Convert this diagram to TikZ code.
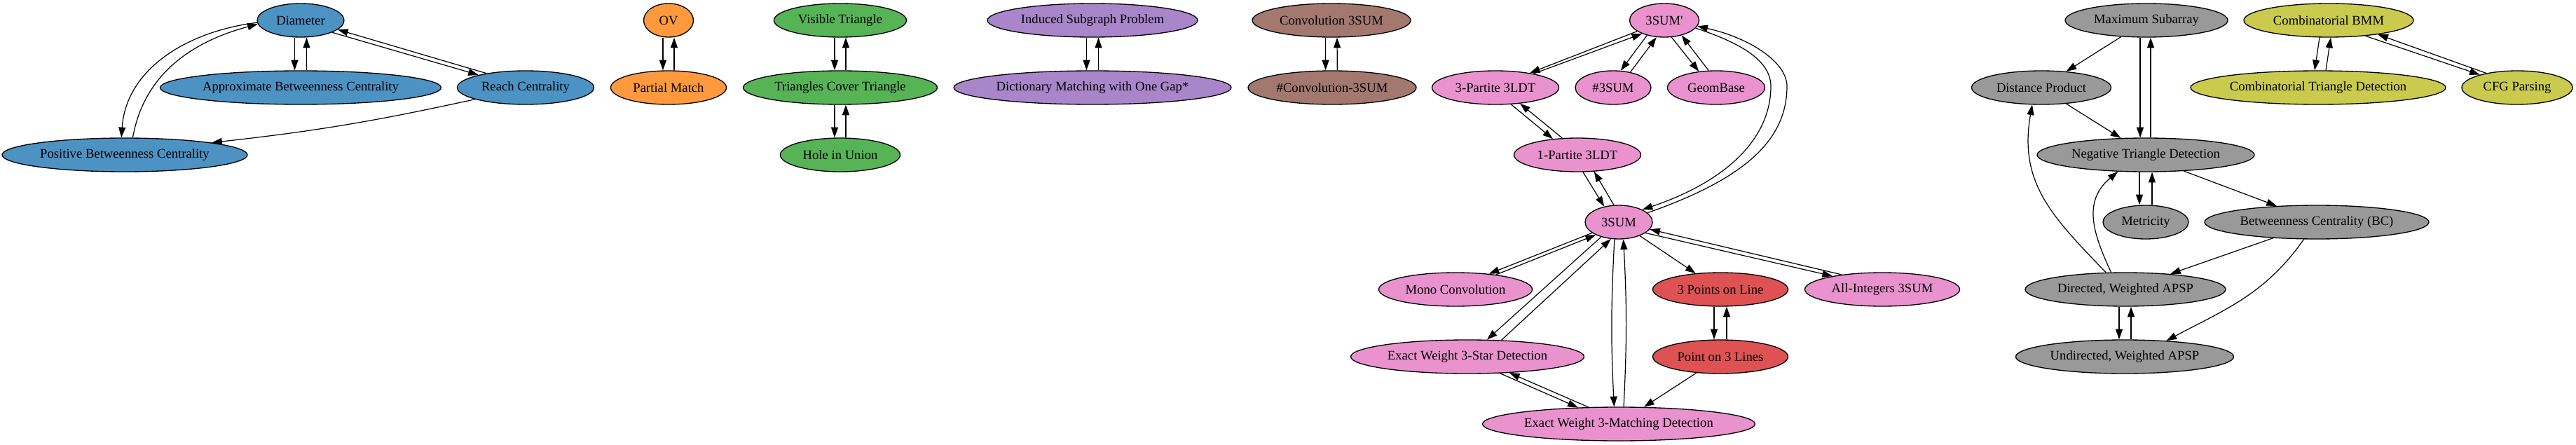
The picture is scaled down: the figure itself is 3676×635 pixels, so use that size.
\documentclass[tikz,border=0pt]{standalone}
\usepackage{fontspec}
\setmainfont{Liberation Serif}
\usetikzlibrary{shapes.geometric,arrows.meta}
\definecolor{cblue}{RGB}{76,146,195}
\definecolor{corange}{RGB}{255,153,62}
\definecolor{cgreen}{RGB}{86,179,86}
\definecolor{cred}{RGB}{222,82,83}
\definecolor{cpurple}{RGB}{169,133,202}
\definecolor{cbrown}{RGB}{163,120,111}
\definecolor{cpink}{RGB}{233,146,206}
\definecolor{cgray}{RGB}{153,153,153}
\definecolor{colive}{RGB}{201,202,78}
\begin{document}
\begin{tikzpicture}[x=0.75pt,y=-0.75pt,
  gv/.style={ellipse,draw=black,line width=1pt,inner sep=0pt,minimum height=36pt,font=\fontsize{14pt}{16pt}\selectfont},
  wd/.style={minimum width=#1*0.75pt},
  bl/.style={gv,fill=cblue},
  orn/.style={gv,fill=corange},
  grn/.style={gv,fill=cgreen},
  rd/.style={gv,fill=cred},
  prp/.style={gv,fill=cpurple},
  brn/.style={gv,fill=cbrown},
  pnk/.style={gv,fill=cpink},
  gry/.style={gv,fill=cgray},
  olv/.style={gv,fill=colive},
  arr/.style={-{Triangle[length=11pt,width=7.5pt]},line width=0.9pt},
]
\useasboundingbox (0,0) rectangle (3676,635);
% blue
\node[bl,wd=124] (dia) at (429,29) {Diameter};
\node[bl,wd=401] (abc) at (429,125) {Approximate Betweenness Centrality};
\node[bl,wd=195] (reach) at (750,125) {Reach Centrality};
\node[bl,wd=350] (pbc) at (178,221) {Positive Betweenness Centrality};
% orange
\node[orn,wd=71] (ov) at (954,29) {OV};
\node[orn,wd=165] (pm) at (954,125) {Partial Match};
% green
\node[grn,wd=189] (vt) at (1199,29) {Visible Triangle};
\node[grn,wd=277] (tct) at (1199,125) {Triangles Cover Triangle};
\node[grn,wd=171] (hiu) at (1199,221) {Hole in Union};
% purple
\node[prp,wd=300] (isp) at (1559,29) {Induced Subgraph Problem};
\node[prp,wd=396] (dmog) at (1559,125) {Dictionary Matching with One Gap*};
% brown
\node[brn,wd=226] (c3) at (1900,29) {Convolution 3SUM};
\node[brn,wd=240] (nc3) at (1901,125) {\#Convolution-3SUM};
% pink / red
\node[pnk,wd=99] (tsp) at (2375,29) {3SUM\textquotesingle};
\node[pnk,wd=181] (p3) at (2134,125) {3-Partite 3LDT};
\node[pnk,wd=108] (n3) at (2302,125) {\#3SUM};
\node[pnk,wd=139] (gb) at (2449,125) {GeomBase};
\node[pnk,wd=181] (p1) at (2251,221) {1-Partite 3LDT};
\node[pnk,wd=96] (ts) at (2310,317) {3SUM};
\node[pnk,wd=219] (mono) at (2077,413) {Mono Convolution};
\node[rd,wd=193] (tpl) at (2455,413) {3 Points on Line};
\node[pnk,wd=221] (ai) at (2686,413) {All-Integers 3SUM};
\node[pnk,wd=333] (star) at (2094,509) {Exact Weight 3-Star Detection};
\node[rd,wd=193] (pl3) at (2455,509) {Point on 3 Lines};
\node[pnk,wd=389] (match) at (2310,605) {Exact Weight 3-Matching Detection};
% gray
\node[gry,wd=232] (ms) at (3063,29) {Maximum Subarray};
\node[gry,wd=199] (dp) at (2913,125) {Distance Product};
\node[gry,wd=310] (ntd) at (3062,221) {Negative Triangle Detection};
\node[gry,wd=122] (met) at (3062,317) {Metricity};
\node[gry,wd=320] (bc) at (3306,317) {Betweenness Centrality (BC)};
\node[gry,wd=286] (dapsp) at (3033,413) {Directed, Weighted APSP};
\node[gry,wd=311] (uapsp) at (3032,509) {Undirected, Weighted APSP};
% olive
\node[olv,wd=242] (cbmm) at (3323,29) {Combinatorial BMM};
\node[olv,wd=364] (ctd) at (3308,125) {Combinatorial Triangle Detection};
\node[olv,wd=158] (cfg) at (3592,125) {CFG Parsing};

% ---- blue edges
\draw[arr] ([xshift=-6.4pt]dia.south) -- ([xshift=-6.4pt]abc.north);
\draw[arr] ([xshift=6.4pt]abc.north) -- ([xshift=6.4pt]dia.south);
\draw[arr] (dia.-21) -- (reach.165);
\draw[arr] (reach.160) -- (dia.-14.8);
\draw[arr] (dia.183.7) to[out=187,in=86] (pbc.101.8);
\draw[arr] (pbc.65.4) to[out=80,in=195] (dia.185.8);
\draw[arr] (reach.193) to[bend left=3] (pbc.8.4);
% ---- orange, green, purple, brown
\draw[arr] ([xshift=-6pt]ov.south) -- ([xshift=-6pt]pm.north);
\draw[arr] ([xshift=6pt]pm.north) -- ([xshift=6pt]ov.south);
\draw[arr] ([xshift=-6pt]vt.south) -- ([xshift=-6pt]tct.north);
\draw[arr] ([xshift=6pt]tct.north) -- ([xshift=6pt]vt.south);
\draw[arr] ([xshift=-6pt]tct.south) -- ([xshift=-6pt]hiu.north);
\draw[arr] ([xshift=6pt]hiu.north) -- ([xshift=6pt]tct.south);
\draw[arr] ([xshift=-6.4pt]isp.south) -- ([xshift=-6.4pt]dmog.north);
\draw[arr] ([xshift=6.4pt]dmog.north) -- ([xshift=6.4pt]isp.south);
\draw[arr] ([xshift=-6.5pt]c3.south) -- ([xshift=-7pt]nc3.north);
\draw[arr] ([xshift=5.5pt]nc3.north) -- ([xshift=6pt]c3.south);
% ---- pink edges
\draw[arr] (tsp.202.5) -- (p3.23);
\draw[arr] (p3.20) -- (tsp.211);
\draw[arr] (tsp.221.5) -- (n3.66);
\draw[arr] (n3.42.6) -- (tsp.245.4);
\draw[arr] (tsp.-67) -- (gb.137);
\draw[arr] (gb.114.6) -- (tsp.-41.5);
\draw[arr] (tsp.-14) .. controls (2480,60) and (2527,85) .. (2527,123)
  .. controls (2527,200) and (2460,260) .. (ts.28.5);
\draw[arr] (ts.18) .. controls (2490,255) and (2550,200) .. (2550,123)
  .. controls (2550,90) and (2500,55) .. (tsp.-10);
\draw[arr] (p3.-47) -- (p1.147.7);
\draw[arr] (p1.132.5) -- (p3.-33);
\draw[arr] (p1.-72) -- (ts.133.8);
\draw[arr] (ts.106) -- (p1.-45);
\draw[arr] (ts.202) -- (mono.25.6);
\draw[arr] (mono.20.7) -- (ts.209.7);
\draw[arr] (ts.220) -- (star.41.9);
\draw[arr] (star.26.6) -- (ts.245);
\draw[arr] (ts.256) to[bend right=3] (match.105.6);
\draw[arr] (match.74.4) to[bend right=3] (ts.285);
\draw[arr] (ts.-33.7) -- (tpl.147.4);
\draw[arr] (ts.-22) -- (ai.165.6);
\draw[arr] (ai.160) -- (ts.-13);
\draw[arr] (star.-27.5) -- (match.158);
\draw[arr] (match.151) -- (star.-21.5);
\draw[arr] ([xshift=-6.75pt]tpl.south) -- ([xshift=-6.75pt]pl3.north);
\draw[arr] ([xshift=6.75pt]pl3.north) -- ([xshift=6.75pt]tpl.south);
\draw[arr] (pl3.214) -- (match.34);
% ---- gray edges
\draw[arr] (ms.213) -- (dp.33.3);
\draw[arr] ([xshift=-6.75pt]ms.south) -- ([xshift=-6pt]ntd.north);
\draw[arr] ([xshift=5.25pt]ntd.north) -- ([xshift=4.5pt]ms.south);
\draw[arr] (dp.-33) -- (ntd.146.3);
\draw[arr] (dapsp.139.4) to[out=134,in=-100,looseness=1.1] (dp.242.5);
\draw[arr] (dapsp.130) to[out=115,in=220,looseness=1.15] (ntd.211);
\draw[arr] ([xshift=-6.75pt]ntd.south) -- ([xshift=-6.75pt]met.north);
\draw[arr] ([xshift=6.75pt]met.north) -- ([xshift=6.75pt]ntd.south);
\draw[arr] (ntd.-23) -- (bc.158);
\draw[arr] (bc.200.6) -- (dapsp.19.5);
\draw[arr] (bc.233) to[out=235,in=28] (uapsp.21.5);
\draw[arr] ([xshift=-6.75pt]dapsp.south) -- ([xshift=-6pt]uapsp.north);
\draw[arr] ([xshift=6.75pt]uapsp.north) -- ([xshift=6pt]dapsp.south);
% ---- olive edges
\draw[arr] ([xshift=-9.75pt]cbmm.south) -- ([xshift=-3.75pt]ctd.north);
\draw[arr] ([xshift=8.25pt]ctd.north) -- ([xshift=2.25pt]cbmm.south);
\draw[arr] (cbmm.-23.5) -- (cfg.161.9);
\draw[arr] (cfg.155) -- (cbmm.-16.8);
\end{tikzpicture}
\end{document}
